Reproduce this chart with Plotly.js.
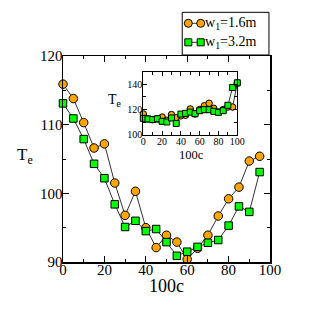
<!DOCTYPE html>
<html>
<head>
<meta charset="utf-8">
<script src="https://cdn.plot.ly/plotly-3.0.1.min.js"></script>
<style>html,body{margin:0;padding:0;background:#fff;}#chart{width:318px;height:326px;}</style>
</head>
<body>
<div id="chart"></div>
<script>
// Main panel data
const mainX = [0,5,10,15,20,25,30,35,40,45,50,55,60,65,70,75,80,85,90,95];
const mainW16 = [115.9,113.8,110.3,106.6,107.2,101.5,96.8,100.3,95.0,92.1,93.9,92.9,90.4,92.0,93.9,96.7,99.2,100.9,104.7,105.4];
const mainW32 = [113.1,110.9,107.9,104.3,102.2,98.4,95.1,96.0,94.5,94.8,92.9,90.9,91.5,92.2,92.8,93.2,95.3,98.1,97.3,103.1];
// Inset data
const insetX = [0,5,10,15,20,25,30,35,40,45,50,55,60,65,70,75,80,85,90,95,100];
const insetW16 = [116.5,112.5,112,112.5,114,111.5,116,113.5,115,115.5,120.5,116.5,120,123,125,121,118,120,122,122,141];
const insetW32 = [113,112.5,112,112.7,110.6,110.1,113.3,109,116.4,117,118,116.7,119.1,119.9,119.9,118.6,117.8,119.1,123.4,137.5,141.3];
const legendNames = ['w<sub>1</sub>=1.6m','w<sub>1</sub>=3.2m'];

const FONT = 'Liberation Serif, Times New Roman, serif';
const orange = '#FFA500', green = '#00FF00';
const lineCol = '#333333';

const traces = [
  {x: mainX, y: mainW16, name: legendNames[0], mode: 'lines+markers', cliponaxis: false,
   line: {color: lineCol, width: 1},
   marker: {symbol: 'circle', size: 8.5, color: orange, line: {color: '#000', width: 1}}},
  {x: mainX, y: mainW32, name: legendNames[1], mode: 'lines+markers', cliponaxis: false,
   line: {color: lineCol, width: 1},
   marker: {symbol: 'square', size: 7.5, color: green, line: {color: '#000', width: 1}}},
  {x: insetX, y: insetW16, xaxis: 'x2', yaxis: 'y2', mode: 'lines+markers', showlegend: false, cliponaxis: false,
   line: {color: lineCol, width: 1},
   marker: {symbol: 'circle', size: 6.5, color: orange, line: {color: '#000', width: 1}}},
  {x: insetX, y: insetW32, xaxis: 'x2', yaxis: 'y2', mode: 'lines+markers', showlegend: false, cliponaxis: false,
   line: {color: lineCol, width: 1},
   marker: {symbol: 'square', size: 6, color: green, line: {color: '#000', width: 1}}}
];

const axisCommon = {
  showgrid: false, zeroline: false, showline: true, linecolor: '#000', linewidth: 1.5,
  mirror: 'ticks', ticks: 'inside', tickcolor: '#000', tickwidth: 1
};

// Custom legend (box, sample line with two markers, text) in paper coordinates
const legRows = [1.1587, 1.0665];
const legX0 = 0.6053, legX1 = 0.6652, legTextX = 0.6778;
const shapes = [
  {type: 'rect', xref: 'paper', yref: 'paper', x0: 0.576, x1: 0.995, y0: 1.005, y1: 1.212,
   line: {color: '#000', width: 1}, fillcolor: '#fff', layer: 'above'}
];
const legendStyles = [
  {type: 'circle', fill: orange, half: 4},
  {type: 'rect', fill: green, half: 3.5}
];
legRows.forEach((ry, i) => {
  shapes.push({type: 'line', xref: 'paper', yref: 'paper', x0: legX0, x1: legX1, y0: ry, y1: ry,
    line: {color: lineCol, width: 1}, layer: 'above'});
  [legX0, legX1].forEach(mx => {
    const s = legendStyles[i];
    shapes.push({type: s.type, xref: 'paper', yref: 'paper',
      xsizemode: 'pixel', ysizemode: 'pixel', xanchor: mx, yanchor: ry,
      x0: -s.half, x1: s.half, y0: -s.half, y1: s.half,
      fillcolor: s.fill, line: {color: '#000', width: 1}, layer: 'above'});
  });
});

const layout = {
  width: 318, height: 326,
  margin: {l: 63, r: 48, t: 56, b: 64},
  paper_bgcolor: '#fff', plot_bgcolor: '#fff',
  font: {family: FONT, color: '#000'},
  showlegend: false,
  shapes: shapes,
  xaxis: Object.assign({}, axisCommon, {range: [0, 100], tickvals: [0,20,40,60,80,100], ticklen: 6,
    minor: {dtick: 10, ticklen: 3, ticks: 'inside', tickcolor: '#000'},
    ticklabelstandoff: -7,
    tickfont: {family: FONT, size: 15}, anchor: 'y'}),
  yaxis: Object.assign({}, axisCommon, {range: [90, 120], tickvals: [90,100,110,120], ticklen: 6,
    minor: {dtick: 5, ticklen: 3, ticks: 'inside', tickcolor: '#000'},
    ticklabelstandoff: -4,
    tickfont: {family: FONT, size: 15}, anchor: 'x'}),
  xaxis2: Object.assign({}, axisCommon, {domain: [0.388, 0.842], range: [0, 100], anchor: 'y2',
    tickvals: [0,20,40,60,80,100], ticklen: 4, linewidth: 1,
    minor: {dtick: 10, ticklen: 3, ticks: 'inside', tickcolor: '#000'},
    ticklabelstandoff: -3,
    tickfont: {family: FONT, size: 10}}),
  yaxis2: Object.assign({}, axisCommon, {domain: [0.618, 0.923], range: [100, 150], anchor: 'x2',
    tickvals: [100,120,140], ticklen: 4, linewidth: 1,
    minor: {dtick: 10, ticklen: 3, ticks: 'inside', tickcolor: '#000'},
    ticklabelstandoff: -2,
    tickfont: {family: FONT, size: 10}}),
  annotations: [
    {text: 'T<sub>e</sub>', xref: 'paper', yref: 'paper', x: -0.184, y: 0.515, showarrow: false,
     xanchor: 'center', yanchor: 'middle', font: {family: FONT, size: 17}},
    {text: '100c', xref: 'paper', yref: 'paper', x: 0.502, y: -0.117, showarrow: false,
     xanchor: 'center', yanchor: 'middle', font: {family: FONT, size: 18}},
    {text: 'T<sub>e</sub>', xref: 'paper', yref: 'paper', x: 0.251, y: 0.782, showarrow: false,
     xanchor: 'center', yanchor: 'middle', font: {family: FONT, size: 14}},
    {text: '100c', xref: 'paper', yref: 'paper', x: 0.623, y: 0.519, showarrow: false,
     xanchor: 'center', yanchor: 'middle', font: {family: FONT, size: 12.5}},
    {text: legendNames[0], xref: 'paper', yref: 'paper', x: legTextX, y: legRows[0], showarrow: false,
     xanchor: 'left', yanchor: 'middle', font: {family: FONT, size: 14}},
    {text: legendNames[1], xref: 'paper', yref: 'paper', x: legTextX, y: legRows[1], showarrow: false,
     xanchor: 'left', yanchor: 'middle', font: {family: FONT, size: 14}}
  ]
};

Plotly.newPlot('chart', traces, layout, {displayModeBar: false, staticPlot: true});
</script>
</body>
</html>
